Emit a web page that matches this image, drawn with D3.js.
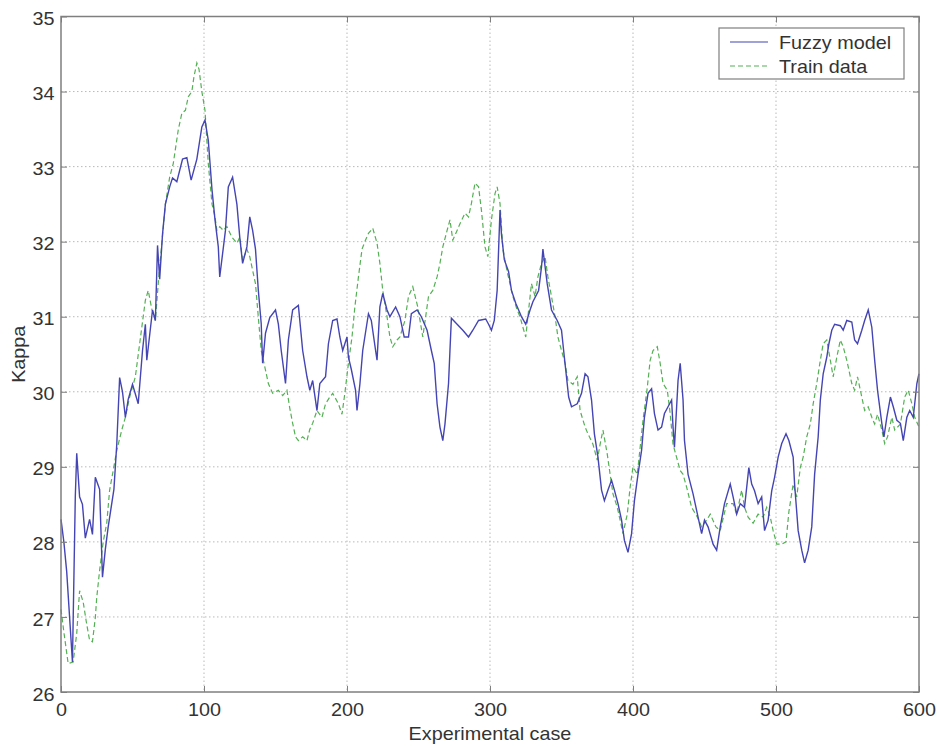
<!DOCTYPE html>
<html>
<head>
<meta charset="utf-8">
<script src="https://cdn.jsdelivr.net/npm/d3@7"></script>
<style>
  html, body { margin: 0; padding: 0; background: #fff; }
  svg { display: block; font-family: Arial, "Liberation Sans", Helvetica, sans-serif; }
</style>
</head>
<body>
<svg id="chart" width="938" height="747"></svg>
<script>
// Fuzzy model output, sampled at experimental case numbers
const fuzzyCase = [0,2,4,6,8,10,11,13,15,17,20,22,24,27,29,31,33,37,39,41,43,45,47,50,54,57,59,60,64,66,67.5,69,71,73,76,78,81,85,88,91,95,98.5,100.7,103,105.6,107.7,110,111,115,117,120,123,125,127,130,132,134,136,138,140,141,143,146,150,152,154,157,159,162,166,169,172,174,176,179,181,185,187,190,193,195,197,200,201,203,206,207,209,211,215,217,220,221,223,225,228,230,234,237,240,243,245,249,252,256,259,261,263,265,267,268.5,271,272,273,277,281,285,288,292,297,299,301,303,305,307,308,310,313,315,318,320,322,325,328,330,334,336,337,340,343,347,350,352,355,357,361,364,366.5,368.5,371,373,375.5,378,380,382.5,385,387,389.5,392,394,396.5,399,401,403.5,406,408,410.5,413,415,417.5,420,422,424.5,427,428,429,431.5,433,435,436,438.5,442,445.5,448,450,452.5,456,458.5,461,464,468,470,472.5,475,478,481,483,485,487.5,490,492,494.5,497,499,501.5,504,507,509,512,513,515.5,518,520,522.5,525,527,529.5,531,533,535.5,537,539,541,545,547,549.5,553,555,557,560,562,564.5,567,569,571,574,575.5,577.5,580,582,584.5,587,589,591.5,593.5,596,598.5,600];
const fuzzyKappa = [28.3,28.0,27.6,27.0,26.4,28.6,29.18,28.6,28.5,28.05,28.3,28.1,28.86,28.7,27.53,27.9,28.2,28.7,29.3,30.19,30.0,29.66,29.9,30.1,29.84,30.55,30.9,30.42,31.09,30.95,31.95,31.5,32.1,32.5,32.73,32.85,32.8,33.1,33.12,32.82,33.1,33.53,33.62,33.35,32.69,32.29,31.93,31.53,32.15,32.73,32.86,32.5,32.06,31.71,31.93,32.33,32.15,31.9,31.35,30.91,30.38,30.78,30.99,31.09,30.9,30.55,30.11,30.69,31.09,31.15,30.55,30.2,30.02,30.15,29.75,30.11,30.2,30.64,30.95,30.97,30.73,30.55,30.73,30.46,30.3,30.02,29.75,30.1,30.55,31.04,30.95,30.55,30.42,31.13,31.31,31.09,31.0,31.13,31.0,30.73,30.73,31.04,31.09,31.0,30.82,30.55,30.38,29.84,29.53,29.35,29.57,30.11,30.55,30.98,30.9,30.82,30.73,30.82,30.95,30.97,30.9,30.82,30.95,31.35,32.42,32.1,31.76,31.6,31.35,31.18,31.09,31.0,30.9,31.09,31.2,31.35,31.66,31.9,31.44,31.09,30.95,30.82,30.46,29.93,29.8,29.84,29.98,30.24,30.2,29.89,29.44,29.13,28.69,28.55,28.69,28.82,28.69,28.51,28.29,28.02,27.86,28.11,28.55,28.9,29.22,29.66,29.98,30.04,29.71,29.49,29.53,29.71,29.8,29.89,29.53,29.26,30.15,30.38,29.89,29.35,28.9,28.64,28.33,28.11,28.29,28.2,27.97,27.89,28.2,28.51,28.77,28.6,28.37,28.51,28.46,28.99,28.77,28.68,28.51,28.6,28.15,28.29,28.68,28.86,29.13,29.31,29.44,29.35,29.13,28.77,28.15,27.89,27.72,27.89,28.2,28.9,29.4,29.89,30.24,30.46,30.64,30.82,30.9,30.88,30.82,30.95,30.93,30.69,30.64,30.82,30.95,31.09,30.86,30.42,30.02,29.58,29.4,29.66,29.93,29.8,29.62,29.58,29.35,29.66,29.75,29.66,30.11,30.24];

// Training data, sampled at experimental case numbers
const trainCase = [0,2,5,8.5,11,13,15.5,18,20,22,24,25,27,29.5,32,34,36.5,39,42.5,45,48,52,55,59,61,63.5,66,68,70.5,73,76,78.5,82,84.5,87,89,91.5,93,95,96.5,98.5,100.7,103,105.6,107.7,109,111,113.5,116,119.5,123,125,127,130,132,136,138,140,143,145,148,152,155,158,160,162,164,166,169,172,174,176,179,182.5,185,188,190,194,196.5,198.5,201,203.5,205.5,208,210.5,212.5,215,218,221,223,225,228,230,232,235,237,240.5,243,246,249.5,253,257,260,263,265,267,270,272,274,277,279,282.5,285,287,289.5,292,294,296.5,298.5,301,303.5,305,307,309,312,314,316,319,321,323,325,326.5,329,331.5,333.5,336,338.5,340.5,343,345.5,347.5,350,352.5,354.5,358,361,363,366.5,368.5,372,375,377,379,382,384,386,389,391,393,396,398,400,403,405,407,410,412,414,417,419,421,424,426,428,431,433,435,437.5,441,445,448,451.5,454,458,461,465.5,470,472.5,476,478,480.5,484,487.5,491,493.5,496,498,500.5,504,507,509,512,514.5,517,519,521.5,524,526,528.5,531,533,535.5,538,540,542.5,545,547,549.5,553,555,557,560,562,564.5,567,569,571,574,576,578,581,583,587,590,592.5,595,597,600];
const trainKappa = [27.1,26.8,26.38,26.4,26.78,27.35,27.2,26.9,26.69,26.67,26.99,27.26,27.62,28.0,28.25,28.69,28.95,29.22,29.49,29.66,29.93,30.2,30.64,31.22,31.35,31.1,30.95,31.44,31.98,32.5,32.86,33.04,33.49,33.71,33.75,33.93,34.0,34.2,34.38,34.3,34.0,33.75,33.04,32.5,32.33,32.15,32.2,32.15,32.2,32.06,31.98,32.06,31.75,31.9,31.8,31.44,30.99,30.55,30.29,30.11,29.98,30.02,29.95,30.02,29.78,29.58,29.4,29.35,29.4,29.35,29.5,29.58,29.75,29.66,29.84,29.93,29.98,29.84,29.7,29.98,30.38,30.73,31.13,31.53,31.9,32.0,32.11,32.18,31.98,31.71,31.35,31.0,30.73,30.6,30.69,30.73,30.95,31.27,31.4,31.13,30.73,31.27,31.35,31.53,31.71,31.93,32.15,32.29,32.02,32.15,32.24,32.38,32.33,32.51,32.78,32.73,32.42,31.93,31.8,32.29,32.64,32.73,32.51,31.9,31.6,31.44,31.27,31.09,31.0,30.86,30.73,31.0,31.44,31.27,31.53,31.71,31.8,31.53,31.27,31.0,30.73,30.55,30.38,30.15,30.1,30.2,29.75,29.53,29.44,29.3,29.09,29.3,29.49,29.17,28.9,28.64,28.46,28.29,28.11,28.37,28.73,29.0,28.9,29.26,29.62,30.06,30.42,30.55,30.6,30.38,30.11,30.02,29.71,29.3,29.09,28.95,28.9,28.73,28.46,28.33,28.2,28.29,28.37,28.2,28.15,28.51,28.51,28.37,28.69,28.46,28.33,28.25,28.37,28.33,28.46,28.33,28.15,27.97,27.97,28.0,28.4,28.77,28.6,28.99,29.13,29.4,29.57,29.84,30.11,30.42,30.64,30.69,30.42,30.2,30.46,30.69,30.6,30.42,30.11,30.02,30.2,29.93,29.75,29.8,29.66,29.57,29.7,29.49,29.31,29.4,29.66,29.49,29.57,29.93,30.02,29.84,29.66,29.53];

const xTicks = [0, 100, 200, 300, 400, 500, 600];
const yTicks = [26, 27, 28, 29, 30, 31, 32, 33, 34, 35];
const seriesNames = ["Fuzzy model", "Train data"];

const svg = d3.select("#chart");
const plot = { left: 61, top: 16.5, right: 919, bottom: 692 };

const x = d3.scaleLinear().domain([0, 600]).range([plot.left, plot.right]);
const y = d3.scaleLinear().domain([26, 35]).range([plot.bottom, plot.top]);

const axisColor = "#7f7f7f";
const gridColor = "#b9b9b9";
const textColor = "#333";
const fontSize = "18px";
const stretch = "scale(1.1,1)";   // slightly wide lettering
const tickLen = 6;
const blueColor = "#4444b4";
const greenColor = "#55b055";

// Dotted grid
const grid = svg.append("g");
grid.selectAll("line.gx").data(xTicks.slice(1, -1)).join("line")
  .attr("x1", d => x(d)).attr("x2", d => x(d))
  .attr("y1", plot.top).attr("y2", plot.bottom)
  .attr("stroke", gridColor).attr("stroke-width", 1).attr("stroke-dasharray", "1.5,2.5");
grid.selectAll("line.gy").data(yTicks.slice(1, -1)).join("line")
  .attr("x1", plot.left).attr("x2", plot.right)
  .attr("y1", d => y(d)).attr("y2", d => y(d))
  .attr("stroke", gridColor).attr("stroke-width", 1).attr("stroke-dasharray", "1.5,2.5");

// Series lines
const line = d3.line().x(d => x(d[0])).y(d => y(d[1]));
const fuzzy = fuzzyCase.map((c, i) => [c, fuzzyKappa[i]]);
const train = trainCase.map((c, i) => [c, trainKappa[i]]);

svg.append("path").datum(train)
  .attr("d", line).attr("fill", "none")
  .attr("stroke", greenColor).attr("stroke-width", 1.2)
  .attr("stroke-dasharray", "5,3");
svg.append("path").datum(fuzzy)
  .attr("d", line).attr("fill", "none")
  .attr("stroke", blueColor).attr("stroke-width", 1.4);

// Axes: ticks inward on all four sides
const axisStyle = g => {
  g.select(".domain").remove();
  g.selectAll(".tick line").attr("stroke", axisColor);
  g.selectAll(".tick text").attr("fill", textColor).style("font-size", fontSize).attr("transform", stretch);
};

svg.append("g").attr("transform", `translate(0,${plot.bottom})`)
  .call(d3.axisBottom(x).tickValues(xTicks).tickSizeInner(-tickLen).tickSizeOuter(0).tickPadding(11).tickFormat(d3.format("d")))
  .call(axisStyle);
svg.append("g").attr("transform", `translate(0,${plot.top})`)
  .call(d3.axisTop(x).tickValues(xTicks).tickSizeInner(-tickLen).tickSizeOuter(0).tickFormat(""))
  .call(axisStyle);
svg.append("g").attr("transform", `translate(${plot.left},0)`)
  .call(d3.axisLeft(y).tickValues(yTicks).tickSizeInner(-tickLen).tickSizeOuter(0).tickPadding(6).tickFormat(d3.format("d")))
  .call(axisStyle)
  .call(g => g.selectAll(".tick text").attr("dy", "0.45em"));
svg.append("g").attr("transform", `translate(${plot.right},0)`)
  .call(d3.axisRight(y).tickValues(yTicks).tickSizeInner(-tickLen).tickSizeOuter(0).tickFormat(""))
  .call(axisStyle);

// Frame
svg.append("rect")
  .attr("x", plot.left).attr("y", plot.top)
  .attr("width", plot.right - plot.left).attr("height", plot.bottom - plot.top)
  .attr("fill", "none").attr("stroke", axisColor).attr("stroke-width", 1.5);

// Axis titles
svg.append("text")
  .attr("transform", `translate(${(plot.left + plot.right) / 2},740) ${stretch}`)
  .attr("text-anchor", "middle").attr("fill", textColor).style("font-size", fontSize)
  .text("Experimental case");
svg.append("text")
  .attr("transform", `translate(25,${(plot.top + plot.bottom) / 2}) rotate(-90) ${stretch}`)
  .attr("text-anchor", "middle").attr("fill", textColor).style("font-size", fontSize)
  .text("Kappa");

// Legend
const legend = svg.append("g").attr("transform", "translate(719,28)");
legend.append("rect").attr("width", 185).attr("height", 51)
  .attr("fill", "#fff").attr("stroke", axisColor).attr("stroke-width", 1.2);
const legendStyles = [
  { color: blueColor, dash: null },
  { color: greenColor, dash: "5,3" }
];
seriesNames.forEach((name, i) => {
  const yy = 14 + i * 24;
  legend.append("line")
    .attr("x1", 11).attr("x2", 49).attr("y1", yy).attr("y2", yy)
    .attr("stroke", legendStyles[i].color).attr("stroke-width", 1.2)
    .attr("stroke-dasharray", legendStyles[i].dash);
  legend.append("text")
    .attr("transform", `translate(60,${yy + 7}) ${stretch}`)
    .attr("fill", textColor).style("font-size", fontSize)
    .text(name);
});
</script>
</body>
</html>
